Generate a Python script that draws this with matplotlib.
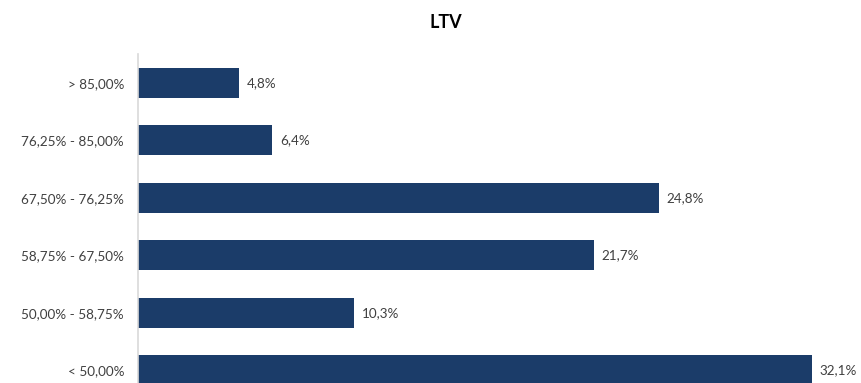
import matplotlib.pyplot as plt

categories = ['< 50,00%', '50,00% - 58,75%', '58,75% - 67,50%',
              '67,50% - 76,25%', '76,25% - 85,00%', '> 85,00%']
shares = [32.1, 10.3, 21.7, 24.8, 6.4, 4.8]
value_labels = ['32,1%', '10,3%', '21,7%', '24,8%', '6,4%', '4,8%']

plt.rcParams['font.family'] = ['Lato', 'DejaVu Sans']

fig = plt.figure(figsize=(8.62, 3.83), dpi=100)
ax = fig.add_axes([138 / 862, -16 / 383, 724 / 862, 345 / 383])

pos = range(len(categories))
ax.barh(pos, shares, height=0.52, color='#1b3c69')

for p, v, lab in zip(pos, shares, value_labels):
    ax.annotate(lab, (v, p), xytext=(5.5, 0), textcoords='offset points',
                va='center', ha='left', fontsize=9.7, color='#404040')

ax.set_ylim(-0.5, 5.5)
ax.set_xlim(0, 724 / 21.0)
ax.set_yticks(list(pos))
ax.set_yticklabels(categories, fontsize=9.7, color='#404040')
ax.tick_params(axis='y', length=0, pad=10)
ax.set_xticks([])

for s in ['top', 'right', 'bottom']:
    ax.spines[s].set_visible(False)
ax.spines['left'].set_color('#d9d9d9')
ax.spines['left'].set_linewidth(1.2)

fig.text(446 / 862, 1 - 22 / 383, 'LTV', ha='center', va='center',
         fontsize=13, fontweight='bold', color='#000000')

fig.savefig('out.png', dpi=100)
